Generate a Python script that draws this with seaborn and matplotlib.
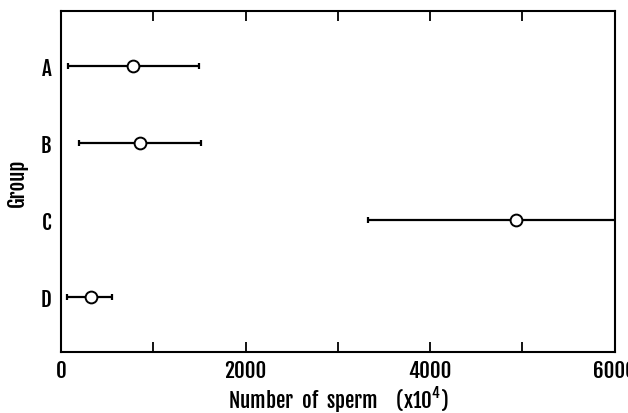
import numpy as np
import pandas as pd
import seaborn as sns
import matplotlib.pyplot as plt

# values (sperm count x 10^4)
groups = ['A', 'B', 'C', 'D']
means = [783, 859, 4935, 321]
lows = [72, 198, 3328, 68]
highs = [1491, 1520, 6500, 556]   # C runs past the right edge

sns.set_theme(style='ticks')
plt.rcParams['font.family'] = ['Fjalla One', 'Roboto Condensed', 'DejaVu Sans']
plt.rcParams['mathtext.fontset'] = 'custom'
plt.rcParams['mathtext.rm'] = 'Fjalla One'
plt.rcParams['mathtext.default'] = 'rm'
for k in ['text.color', 'axes.labelcolor', 'xtick.color', 'ytick.color']:
    plt.rcParams[k] = 'black'

df = pd.DataFrame({'group': groups, 'mean': means, 'low': lows, 'high': highs})
df['pos'] = np.arange(len(df))

fig, ax = plt.subplots(figsize=(6.28, 4.14), dpi=100)
fig.subplots_adjust(left=0.097, right=0.979, top=0.971, bottom=0.147)

xerr = [df['mean'] - df['low'], df['high'] - df['mean']]
ax.errorbar(df['mean'], df['pos'], xerr=xerr, fmt='none', ecolor='black',
            elinewidth=1.6, capsize=2.5, capthick=1.6, zorder=2)
sns.scatterplot(data=df, x='mean', y='pos', marker='o', s=72, color='white',
                edgecolor='black', linewidth=1.4, zorder=3, ax=ax, legend=False)

ax.set_xlim(0, 6000)
ax.set_ylim(3.72, -0.72)
ax.set_yticks(df['pos'], df['group'])
ax.set_xticks([0, 2000, 4000, 6000])
ax.set_xticks([1000, 3000, 5000], minor=True)
ax.tick_params(axis='x', which='both', direction='in', top=True, length=7,
               width=1.3, pad=5, labelsize=15)
ax.tick_params(axis='y', length=0, pad=7, labelsize=15)
for s in ax.spines.values():
    s.set_visible(True)
    s.set_linewidth(1.5)
    s.set_color('black')

ax.set_xlabel('Number  of  sperm    (x10$^4$)', fontsize=15, labelpad=2)
ax.set_ylabel('Group', fontsize=15, labelpad=9)

fig.savefig('out.png', dpi=100)
